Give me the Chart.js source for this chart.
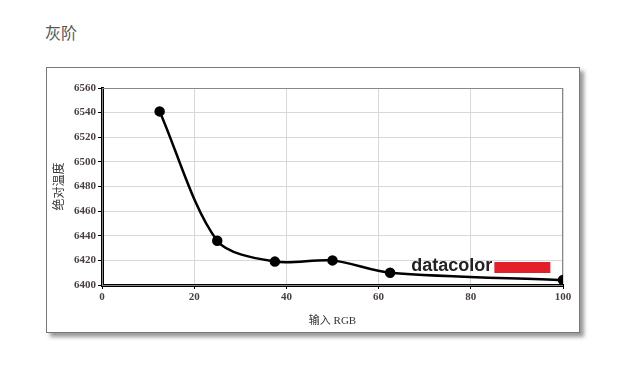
<!DOCTYPE html>
<html>
<head>
<meta charset="utf-8">
<script src="https://cdn.jsdelivr.net/npm/chart.js@4/dist/chart.umd.min.js"></script>
<style>
  body { margin: 0; background: #fff; width: 640px; height: 377px; position: relative; overflow: hidden; }
  #title { position: absolute; left: 45px; top: 20px; font: 16px "Noto Sans CJK SC", sans-serif; color: #555; }
  #frame { position: absolute; left: 46px; top: 67px; width: 532px; height: 264px;
           border: 1px solid #777; box-shadow: 4px 4px 4px #999; background: #fff; }
</style>
</head>
<body>
<div id="title">灰阶</div>
<div id="frame"><canvas id="c"></canvas></div>
<script>
const inputRGB = [12.5, 25, 37.5, 50, 62.5, 100];
const temperature = [6541, 6436, 6419, 6420, 6410, 6404];
const xTicks = [0, 20, 40, 60, 80, 100];
const yTicks = [6400, 6420, 6440, 6460, 6480, 6500, 6520, 6540, 6560];

const tickFont = { family: "'Liberation Serif', serif", size: 11, weight: "bold" };

// gray frame round the plot, logo on top of the data
const decor = {
  id: "decor",
  beforeDatasetsDraw(chart) {
    const a = chart.chartArea, ctx = chart.ctx;
    ctx.save();
    ctx.strokeStyle = "#888";
    ctx.lineWidth = 1;
    ctx.strokeRect(a.left + 0.5, a.top + 0.5, a.width - 1, a.height);
    ctx.restore();
  },
  afterDraw(chart) {
    const a = chart.chartArea, ctx = chart.ctx;
    const x = a.left + a.width * 0.671;
    const y = a.bottom - 14;
    ctx.save();
    ctx.font = "bold 18px 'Liberation Sans', sans-serif";
    ctx.fillStyle = "#222";
    ctx.textBaseline = "alphabetic";
    ctx.fillText("datacolor", x, y);
    const w = ctx.measureText("datacolor").width;
    ctx.fillStyle = "#e3202a";
    ctx.fillRect(x + w + 2, y - 9, 56, 11);
    ctx.restore();
  }
};

new Chart(document.getElementById("c"), {
  type: "line",
  data: {
    datasets: [{
      data: inputRGB.map((x, i) => ({ x: x, y: temperature[i] })),
      borderColor: "#000",
      backgroundColor: "#000",
      borderWidth: 2.5,
      pointRadius: 4,
      pointHoverRadius: 4,
      tension: 0.3
    }]
  },
  options: {
    responsive: true,
    maintainAspectRatio: false,
    animation: false,
    layout: { padding: { top: 20, right: 16, left: 0, bottom: 0 } },
    plugins: { legend: { display: false }, tooltip: { enabled: false } },
    scales: {
      x: {
        type: "linear",
        min: 0, max: 100,
        afterBuildTicks: s => { s.ticks = xTicks.map(v => ({ value: v })); },
        afterFit: s => { s.height = 47; },
        grid: { color: "#d8d8d8", tickColor: "#000", tickLength: 4, lineWidth: 1 },
        border: { color: "#000", width: 3 },
        ticks: { font: tickFont, color: "#4a4040", padding: 2, maxRotation: 0, callback: v => String(v) },
        title: { display: true, text: "输入 RGB", color: "#333",
                 font: { family: "'Liberation Serif', 'Noto Sans CJK SC', serif", size: 11 },
                 padding: { top: 2 } }
      },
      y: {
        min: 6400, max: 6560,
        afterBuildTicks: s => { s.ticks = yTicks.map(v => ({ value: v })); },
        afterFit: s => { s.width = 55; },
        grid: { color: "#d8d8d8", tickColor: "#000", tickLength: 4, lineWidth: 1 },
        border: { color: "#000", width: 3 },
        ticks: { font: tickFont, color: "#4a4040", padding: 2, callback: v => String(v) },
        title: { display: true, text: "绝对温度", color: "#333",
                 font: { family: "'Noto Sans CJK SC', sans-serif", size: 12 },
                 padding: { bottom: 0 } }
      }
    }
  },
  plugins: [decor]
});
</script>
</body>
</html>
